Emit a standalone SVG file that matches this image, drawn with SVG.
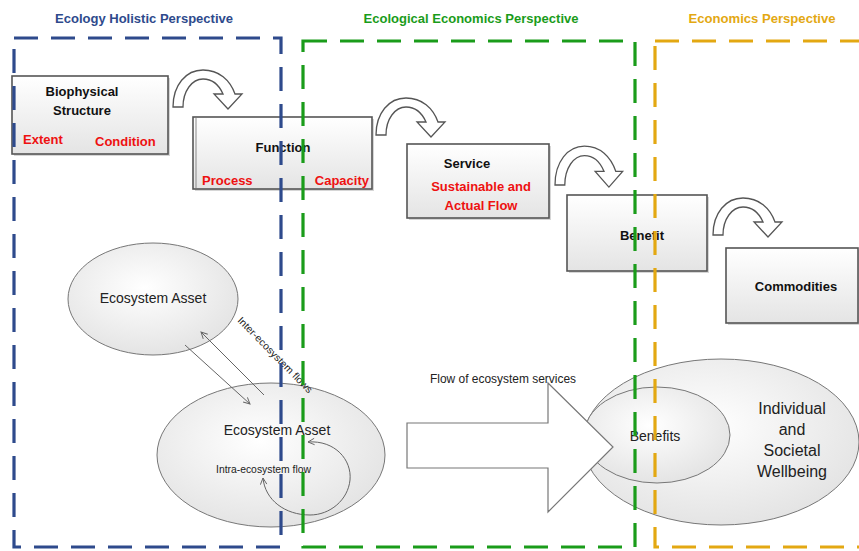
<svg xmlns="http://www.w3.org/2000/svg" width="859" height="551" viewBox="0 0 859 551">
<defs>
<linearGradient id="boxg" x1="0" y1="0" x2="0" y2="1">
<stop offset="0" stop-color="#ffffff"/><stop offset="1" stop-color="#e4e4e4"/>
</linearGradient>
<radialGradient id="ellg" cx="0.45" cy="0.4" r="0.65">
<stop offset="0" stop-color="#ffffff"/><stop offset="1" stop-color="#e2e2e2"/>
</radialGradient>
<path id="uturn" d="M0,0 C0,-22 13,-37 30,-37 C46,-37 57,-27 62,-13 L69,-13 L55,2 L41,-13 L50,-13 C46,-22 39,-28 30,-28 C19,-28 10,-16 10,0 Z"/>
<marker id="open" viewBox="0 0 10 10" refX="9" refY="5" markerWidth="8" markerHeight="8" orient="auto-start-reverse" markerUnits="userSpaceOnUse">
<path d="M1,1 L9,5 L1,9" fill="none" stroke="#666" stroke-width="1.2"/>
</marker>
</defs>
<style>
.box{fill:url(#boxg);stroke:#555;stroke-width:1.6}
.shadow{fill:#bbb;opacity:0.6}
.ell{fill:url(#ellg);stroke:#777;stroke-width:1}
.ut{fill:#fff;stroke:#555;stroke-width:1.3}
.dash{fill:none;stroke-width:3.2;stroke-dasharray:24 13}
.t{font-family:"Liberation Sans",Arial,sans-serif}
.b{font-weight:bold}
.bl{fill:#111;font-size:13px}
.red{fill:#ee1111;font-size:13px}
.title{font-size:13px;font-weight:bold}
.thin{stroke:#666;stroke-width:1;fill:none}
</style>
<text class="t title" x="144" y="23" text-anchor="middle" fill="#2e4a8c" textLength="178" lengthAdjust="spacingAndGlyphs">Ecology Holistic Perspective</text>
<text class="t title" x="471" y="23" text-anchor="middle" fill="#1a9c1a" textLength="215" lengthAdjust="spacingAndGlyphs">Ecological Economics Perspective</text>
<text class="t title" x="762" y="23" text-anchor="middle" fill="#e3a812" textLength="147" lengthAdjust="spacingAndGlyphs">Economics Perspective</text>

<g id="asset-top">
<ellipse class="ell" cx="153" cy="299" rx="85" ry="56"/>
<text class="t" x="153" y="303" text-anchor="middle" font-size="14" fill="#222">Ecosystem Asset</text>
</g>
<g id="asset-bottom">
<ellipse class="ell" cx="271" cy="455" rx="114" ry="72"/>
<text class="t" x="277" y="435" text-anchor="middle" font-size="14" fill="#222">Ecosystem Asset</text>
<text class="t" x="216" y="473" font-size="10" fill="#222" textLength="95" lengthAdjust="spacingAndGlyphs">Intra-ecosystem flow</text>
</g>
<g id="wellbeing">
<ellipse class="ell" cx="721" cy="442" rx="138" ry="83"/>
<text class="t" x="792" y="414" text-anchor="middle" font-size="16" fill="#222">Individual</text>
<text class="t" x="792" y="435" text-anchor="middle" font-size="16" fill="#222">and</text>
<text class="t" x="792" y="456" text-anchor="middle" font-size="16" fill="#222">Societal</text>
<text class="t" x="792" y="477" text-anchor="middle" font-size="16" fill="#222">Wellbeing</text>
</g>
<g id="benefits">
<ellipse class="ell" cx="657" cy="435" rx="73" ry="48"/>
<text class="t" x="655" y="441" text-anchor="middle" font-size="14" fill="#222">Benefits</text>
</g>

<g id="connectors">
<line class="thin" x1="185" y1="345" x2="250" y2="404" marker-end="url(#open)"/>
<line class="thin" x1="264" y1="395" x2="201" y2="332" marker-end="url(#open)"/>
<path class="thin" d="M308,442 C335,440 352,460 350,480 C348,500 330,515 310,515 C285,515 265,500 263,478" marker-start="url(#open)" marker-end="url(#open)"/>
<text class="t" x="0" y="0" font-size="10" fill="#222" transform="translate(237,321) rotate(45.5)" textLength="102" lengthAdjust="spacingAndGlyphs">Inter-ecosystem flows</text>
<polygon points="407,423 548,423 548,383 613,447 548,512 548,468 407,468" fill="#fff" stroke="#777" stroke-width="1.2"/>
<text class="t" x="430" y="383" font-size="12" fill="#222" textLength="146" lengthAdjust="spacingAndGlyphs">Flow of ecosystem services</text>
<use href="#uturn" class="ut" transform="translate(173,107)"/>
<use href="#uturn" class="ut" transform="translate(376,135)"/>
<use href="#uturn" class="ut" transform="translate(555,185) scale(0.98,1.05)"/>
<use href="#uturn" class="ut" transform="translate(713,235)"/>
</g>

<g id="biophysical">
<rect class="shadow" x="14" y="78" width="156" height="78"/>
<rect class="box" x="12" y="76" width="156" height="78"/>
<text class="t b bl" x="82" y="96" text-anchor="middle">Biophysical</text>
<text class="t b bl" x="82" y="115" text-anchor="middle">Structure</text>
<text class="t b red" x="23" y="144">Extent</text>
<text class="t b red" x="95" y="146">Condition</text>
</g>
<g id="function">
<rect class="shadow" x="195" y="119" width="179" height="72"/>
<rect class="box" x="193" y="117" width="179" height="72"/>
<line x1="196" y1="118" x2="196" y2="188" stroke="#888" stroke-width="1"/>
<text class="t b bl" x="283" y="152" text-anchor="middle">Function</text>
<text class="t b red" x="202" y="185">Process</text>
<text class="t b red" x="369" y="185" text-anchor="end">Capacity</text>
</g>
<g id="service">
<rect class="shadow" x="409" y="146" width="142" height="74"/>
<rect class="box" x="407" y="144" width="142" height="74"/>
<text class="t b bl" x="467" y="168" text-anchor="middle">Service</text>
<text class="t b red" x="481" y="191" text-anchor="middle">Sustainable and</text>
<text class="t b red" x="481" y="210" text-anchor="middle">Actual Flow</text>
</g>
<g id="benefit">
<rect class="shadow" x="569" y="197" width="140" height="76"/>
<rect class="box" x="567" y="195" width="140" height="76"/>
<text class="t b bl" x="642" y="240" text-anchor="middle">Benefit</text>
</g>
<g id="commodities">
<rect class="shadow" x="728" y="250" width="133" height="75"/>
<rect class="box" x="726" y="248" width="132" height="75"/>
<text class="t b bl" x="796" y="291" text-anchor="middle">Commodities</text>
</g>

<g id="perspectives">
<rect class="dash" x="14" y="38" width="267" height="509" stroke="#2e4a8c"/>
<rect class="dash" x="303" y="41" width="332" height="506" stroke="#1a9c1a"/>
<rect class="dash" x="655" y="41" width="230" height="506" stroke="#e3a812"/>
</g>
</svg>
